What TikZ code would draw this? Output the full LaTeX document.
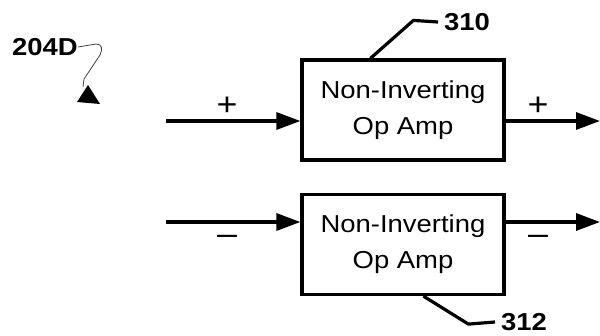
\documentclass[tikz,border=0pt]{standalone}
\usepackage{fontspec}
\setmainfont{Liberation Sans}
\usetikzlibrary{arrows.meta,calc}
\newcommand{\sx}[1]{\scalebox{1.12}[1]{#1}}
\tikzset{
  opbox/.style={draw, line width=3.2pt, fill=white, minimum width=202pt, minimum height=100pt, inner sep=0pt, align=center, font=\fontsize{24.5}{36}\selectfont},
  sigline/.style={line width=3.2pt, -{Triangle[length=24pt,width=17pt]}},
  leader/.style={line width=3.2pt},
  reflabel/.style={font=\fontsize{24.5}{28}\selectfont\bfseries, inner sep=0pt},
  sign/.style={font=\fontsize{32}{36}\selectfont, inner sep=0pt, anchor=base}
}
\begin{document}
\begin{tikzpicture}[x=1pt,y=-1pt]
\useasboundingbox (0,0) rectangle (600,335);
% boxes
\node[opbox] (b1) at (403,110) {\sx{Non-Inverting}\\\sx{Op Amp}};
\node[opbox] (b2) at (403,244.5) {\sx{Non-Inverting}\\\sx{Op Amp}};
% signal lines
\coordinate (in1) at (166,121);
\coordinate (out1) at (600,121);
\coordinate (in2) at (166,222);
\coordinate (out2) at (600,222);
\draw[sigline] (in1) -- (in1 -| b1.west);
\draw[sigline] (b1.east |- out1) -- (out1);
\draw[sigline] (in2) -- (in2 -| b2.west);
\draw[sigline] (b2.east |- out2) -- (out2);
% signs
\node[sign] (p1) at (227,115.7) {\sx{+}};
\node[sign] (p2) at (538,115.7) {\sx{+}};
\node[sign] (m1) at (227,244.8) {\sx{–}};
\node[sign] (m2) at (538,244.8) {\sx{–}};
% reference labels
\node[reflabel, anchor=west] (l310) at (444,22) {\sx{310}};
\node[reflabel, anchor=west] (l312) at (501,322) {\sx{312}};
\node[reflabel] (l204) at (45,47) {\sx{204D}};
\draw[leader] ([xshift=70pt]b1.north west) -- ++(43,-38) -- ([xshift=-6pt]l310.west);
\draw[leader] ([xshift=123pt]b2.south west) -- ++(45,28) -- ([xshift=-6pt]l312.west);
% 204D lead line
\coordinate (tri) at (83,87);
\draw[line width=0.8pt, black!75] (l204.east) -- (96,44) .. controls (102,44) and (103,49) .. (100,55) -- (84,79) -- (tri);
\fill (88,85) -- (77,102) -- (100,104) -- cycle;
\end{tikzpicture}
\end{document}
